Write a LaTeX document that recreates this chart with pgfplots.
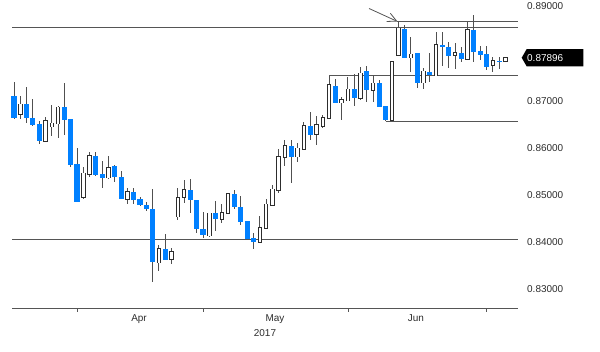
\documentclass[border=0pt]{standalone}
\usepackage{fontspec}
\setmainfont{Liberation Sans}
\usepackage{pgfplots}
\usepackage{pgfplotstable}
\pgfplotsset{compat=1.18}
\usetikzlibrary{arrows.meta}
\definecolor{cblue}{RGB}{0,128,255}
\definecolor{wick}{RGB}{80,80,80}
\definecolor{outl}{RGB}{45,45,45}
\definecolor{lineclr}{RGB}{85,85,85}
\definecolor{txt}{RGB}{45,45,45}

% bearish candles (blue): index open high low close
\pgfplotstableread{
i O H L C
0 0.87091 0.87388 0.86605 0.86612
2 0.86909 0.87269 0.86513 0.86612
3 0.86625 0.87021 0.86455 0.86464
4 0.86485 0.86559 0.86068 0.86125
8 0.86845 0.87360 0.86258 0.86576
9 0.86591 0.86600 0.85574 0.85617
10 0.85638 0.85983 0.84840 0.84845
13 0.85820 0.85905 0.85390 0.85411
14 0.85432 0.85708 0.85146 0.85358
16 0.85612 0.85633 0.85256 0.85362
17 0.85375 0.85496 0.84898 0.84903
19 0.85061 0.85129 0.84797 0.84892
20 0.84898 0.84951 0.84748 0.84775
21 0.84782 0.84845 0.84642 0.84684
22 0.84691 0.85125 0.83150 0.83574
24 0.83843 0.84155 0.83605 0.83617
28 0.85100 0.85333 0.84600 0.84875
29 0.84881 0.84885 0.84182 0.84261
30 0.84261 0.84634 0.84083 0.84134
32 0.84600 0.84854 0.84231 0.84483
35 0.85009 0.85087 0.84684 0.84733
36 0.84739 0.84966 0.84352 0.84409
37 0.84437 0.84440 0.84055 0.84066
38 0.84083 0.84186 0.83850 0.83998
44 0.86032 0.86153 0.85248 0.85786
47 0.86449 0.86752 0.86153 0.86258
51 0.87301 0.87441 0.86936 0.86943
54 0.87233 0.87551 0.86873 0.87036
56 0.87619 0.87731 0.86964 0.87212
58 0.87354 0.87424 0.86852 0.86858
59 0.86873 0.86878 0.86545 0.86576
62 0.88498 0.88589 0.87885 0.87896
64 0.87989 0.87995 0.87248 0.87367
66 0.87600 0.87989 0.87381 0.87530
68 0.88169 0.88451 0.87720 0.88127
69 0.88127 0.88229 0.87678 0.87939
71 0.88002 0.88129 0.87811 0.87873
73 0.88483 0.88801 0.87805 0.88023
74 0.88028 0.88144 0.87847 0.87953
75 0.87975 0.88150 0.87636 0.87705
77 0.87826 0.87917 0.87661 0.87809
}\bear

% bullish candles (hollow)
\pgfplotstableread{
i O H L C
1 0.86697 0.87091 0.86604 0.86909
5 0.86125 0.86640 0.86110 0.86566
6 0.86434 0.86890 0.86237 0.86506
7 0.86498 0.86883 0.86195 0.86845
11 0.84939 0.85574 0.84903 0.85447
12 0.85426 0.85898 0.85375 0.85820
15 0.85358 0.85814 0.85320 0.85570
18 0.84903 0.85136 0.84790 0.85061
23 0.83553 0.83928 0.83377 0.83839
25 0.83625 0.83875 0.83532 0.83786
26 0.84532 0.85129 0.84458 0.84934
27 0.84945 0.85305 0.84811 0.85093
31 0.84125 0.84617 0.84108 0.84600
33 0.84479 0.84790 0.84388 0.84612
34 0.84600 0.85036 0.84585 0.85009
39 0.83992 0.84536 0.83977 0.84295
40 0.84282 0.84898 0.84267 0.84790
41 0.84775 0.85199 0.84754 0.85108
42 0.85093 0.85955 0.85036 0.85799
43 0.85786 0.86153 0.85602 0.86032
45 0.85799 0.86089 0.85693 0.85977
46 0.85955 0.86540 0.85941 0.86449
48 0.86273 0.86661 0.86047 0.86470
49 0.86449 0.86682 0.86400 0.86629
50 0.86612 0.87519 0.86591 0.87318
52 0.86947 0.87070 0.86576 0.87004
53 0.86989 0.87487 0.86979 0.87227
55 0.87036 0.87689 0.87000 0.87566
57 0.87212 0.87540 0.86951 0.87354
60 0.86576 0.87815 0.86545 0.87811
61 0.87943 0.88659 0.87932 0.88519
63 0.87896 0.88345 0.87600 0.87968
65 0.87367 0.87672 0.87244 0.87608
67 0.87519 0.88451 0.87508 0.88169
70 0.87949 0.88208 0.87657 0.88006
72 0.87873 0.88659 0.87869 0.88483
76 0.87742 0.87917 0.87600 0.87826
78 0.87820 0.87922 0.87815 0.87896
}\bull

\begin{document}
\begin{tikzpicture}
\path[use as bounding box] (0,0) rectangle (600bp,352bp);
\begin{axis}[
  at={(12bp,43.3bp)}, anchor=south west,
  scale only axis, width=506bp, height=308.7bp,
  xmin=-0.32, xmax=80, ymin=0.825784, ymax=0.891186,
  axis x line*=bottom, axis y line*=right,
  y axis line style={draw=none},
  x axis line style={draw=lineclr, line width=1.2bp},
  tick align=outside, major tick length=3bp,
  xtick={10,30,53,75}, xticklabels={},
  x tick style={draw=lineclr, line width=0.8bp},
  extra x ticks={19.84,41.43,63.8},
  extra x tick labels={Apr,May,Jun},
  extra x tick style={major tick length=0pt, tick style={draw=none},
     xticklabel style={anchor=north, inner sep=0pt, yshift=-6bp}},
  ytick={0.83,0.84,0.85,0.86,0.87,0.89},
  y tick style={draw=none},
  scaled y ticks=false,
  yticklabel style={anchor=west, inner sep=0pt, xshift=6bp, yshift=-0.7bp,
     /pgf/number format/.cd, fixed, fixed zerofill, precision=5},
  /pgf/number format/assume math mode=true,
  tick label style={font=\fontsize{10}{12}\selectfont, text=txt},
  clip=false,
  candle/.style={no markers, draw=none, forget plot,
     error bars/y dir=both, error bars/y explicit, error bars/error mark=none},
]
% support / resistance lines
\addplot[lineclr, line width=1.1bp, no markers] coordinates {(-0.32,0.88532) (80,0.88532)};
\addplot[lineclr, line width=1.1bp, no markers] coordinates {(60.8,0.88659) (80,0.88659)};
\addplot[lineclr, line width=1.1bp, no markers] coordinates {(50,0.87519) (80,0.87519)};
\addplot[lineclr, line width=1.1bp, no markers] coordinates {(59,0.86545) (80,0.86545)};
\addplot[lineclr, line width=1.1bp, no markers] coordinates {(-0.32,0.84049) (80,0.84049)};

% wicks
\addplot[candle, error bars/error bar style={line width=1bp, draw=wick}]
  table[x=i, y expr={(\thisrow{H}+\thisrow{L})/2}, y error expr={(\thisrow{H}-\thisrow{L})/2}] {\bear};
\addplot[candle, error bars/error bar style={line width=1bp, draw=wick}]
  table[x=i, y expr={(\thisrow{H}+\thisrow{L})/2}, y error expr={(\thisrow{H}-\thisrow{L})/2}] {\bull};

% bearish bodies
\addplot[candle, error bars/error bar style={line width=5.1bp, draw=cblue}]
  table[x=i, y expr={(\thisrow{O}+\thisrow{C})/2}, y error expr={(\thisrow{O}-\thisrow{C})/2}] {\bear};

% bullish bodies: outline then white interior
\addplot[candle, error bars/error bar style={line width=4.4bp, draw=outl, shorten <=-0.7bp, shorten >=-0.7bp}]
  table[x=i, y expr={(\thisrow{O}+\thisrow{C})/2}, y error expr={(\thisrow{C}-\thisrow{O})/2}] {\bull};
\addplot[candle, error bars/error bar style={line width=2.4bp, draw=white}]
  table[x=i, y expr={(\thisrow{O}+\thisrow{C})/2}, y error expr={(\thisrow{C}-\thisrow{O})/2}] {\bull};

% annotation arrow
\draw[lineclr, line width=0.8bp, -{Straight Barb[length=9bp, width=9bp]}]
  (axis cs:56.35,0.88939) -- (axis cs:60.87,0.88663);

\coordinate (last) at (axis cs:80,0.87896);
\coordinate (yr) at (axis cs:39.84,0.825784);
\end{axis}
% last price marker
\fill[black] ([xshift=3.7bp]last) -- ([xshift=8.7bp,yshift=8.7bp]last)
  -- ([xshift=65.3bp,yshift=8.7bp]last) -- ([xshift=65.3bp,yshift=-8.7bp]last)
  -- ([xshift=8.7bp,yshift=-8.7bp]last) -- cycle;
\node[anchor=west, inner sep=0pt, xshift=9bp, yshift=-0.5bp, text=white, font=\fontsize{10}{12}\selectfont]
  at (last) {0.87896};
\node[anchor=north, inner sep=0pt, yshift=-20.7bp, text=txt, font=\fontsize{10}{12}\selectfont]
  at (yr) {2017};
\end{tikzpicture}
\end{document}
